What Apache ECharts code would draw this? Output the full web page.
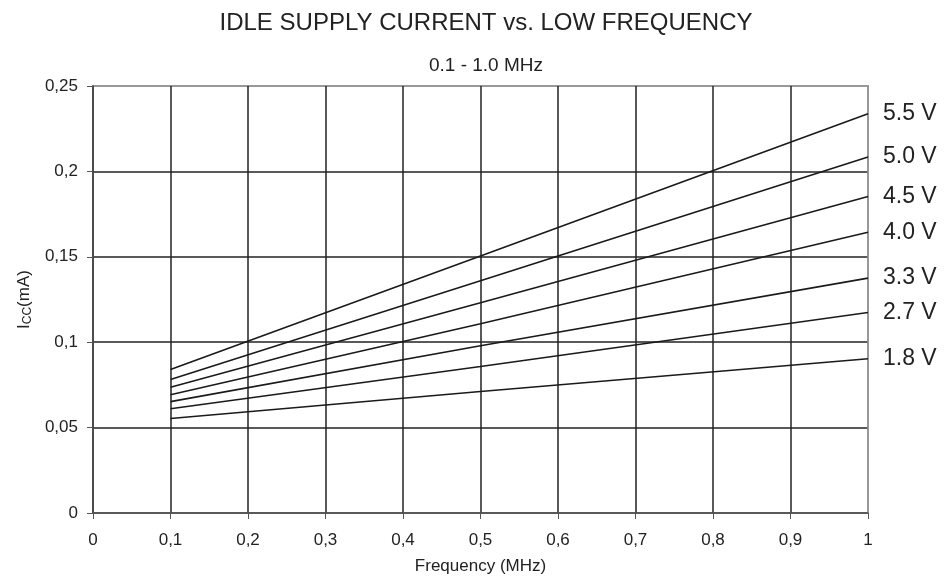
<!DOCTYPE html>
<html><head><meta charset="utf-8">
<script src="https://cdn.jsdelivr.net/npm/echarts@6/dist/echarts.min.js"></script>
<style>html,body{margin:0;padding:0;background:#fff}#c{width:946px;height:586px}</style>
</head><body><div id="c"></div>
<script>
const freq = [0.1, 0.5, 1.0];
const seriesNames = ['5.5 V', '5.0 V', '4.5 V', '4.0 V', '3.3 V', '2.7 V', '1.8 V'];
const v55 = [0.084, 0.1505, 0.2338];
const v50 = [0.0781, 0.136, 0.2084];
const v45 = [0.0736, 0.1231, 0.1853];
const v40 = [0.0692, 0.1108, 0.1644];
const v33 = [0.0652, 0.0979, 0.1375];
const v27 = [0.061, 0.0858, 0.1174];
const v18 = [0.0553, 0.0711, 0.0903];
const allValues = [v55, v50, v45, v40, v33, v27, v18];
const xTicks = ['0','0,1','0,2','0,3','0,4','0,5','0,6','0,7','0,8','0,9','1'];
const yTicks = ['0','0,05','0,1','0,15','0,2','0,25'];

const FONT = '"Liberation Sans", Arial, sans-serif';
const chart = echarts.init(document.getElementById('c'));
chart.setOption({
  animation: false,
  backgroundColor: '#fff',
  title: [
    {text: 'IDLE SUPPLY CURRENT vs. LOW FREQUENCY', left: 481, top: 6, textAlign: 'center',
     textStyle: {fontFamily: FONT, fontSize: 24, fontWeight: 'normal', color: '#222'}},
    {text: '0.1 - 1.0 MHz', left: 481, top: 51, textAlign: 'center',
     textStyle: {fontFamily: FONT, fontSize: 19, fontWeight: 'normal', color: '#222'}}
  ],
  grid: {left: 93, right: 78, top: 86, bottom: 73, show: true, borderColor: '#999', borderWidth: 2},
  xAxis: {
    type: 'value', min: 0, max: 1, interval: 0.1,
    name: 'Frequency (MHz)', nameLocation: 'middle', nameGap: 45,
    nameTextStyle: {fontFamily: FONT, fontSize: 17, color: '#222'},
    axisLine: {show: true, onZero: false, lineStyle: {color: '#555', width: 1.5}},
    axisTick: {show: true, length: 6, lineStyle: {color: '#555', width: 1}},
    axisLabel: {margin: 19, fontFamily: FONT, fontSize: 17, color: '#222',
      formatter: (v) => xTicks[Math.round(v * 10)]},
    splitLine: {show: true, lineStyle: {color: ['#555','#222','#222','#222','#222','#222','#222','#222','#222','#222','#999'], width: 1.5}}
  },
  yAxis: {
    type: 'value', min: 0, max: 0.25, interval: 0.05,
    name: '{m|I}{s|CC}{m|(mA)}', nameLocation: 'middle', nameGap: 55, nameRotate: 90,
    nameTextStyle: {rich: {
      m: {fontFamily: FONT, fontSize: 17, color: '#222'},
      s: {fontFamily: FONT, fontSize: 12, color: '#222', verticalAlign: 'bottom', padding: [7,0,0,0]}
    }},
    axisLine: {show: true, onZero: false, lineStyle: {color: '#444', width: 1.5}},
    axisTick: {show: true, length: 6, lineStyle: {color: '#555', width: 1}},
    axisLabel: {margin: 15, fontFamily: FONT, fontSize: 17, color: '#222',
      formatter: (v) => yTicks[Math.round(v / 0.05)]},
    splitLine: {show: true, lineStyle: {color: ['#555','#222','#222','#222','#222','#999'], width: 1.5}}
  },
  series: seriesNames.map((name, i) => ({
    name: name, type: 'line', symbol: 'none',
    data: freq.map((f, j) => [f, allValues[i][j]]),
    lineStyle: {color: '#1a1a1a', width: 1.6},
    endLabel: {show: true, formatter: name, distance: 15,
      fontFamily: FONT, fontSize: 23, color: '#222'},
    z: 3
  }))
});
</script></body></html>
